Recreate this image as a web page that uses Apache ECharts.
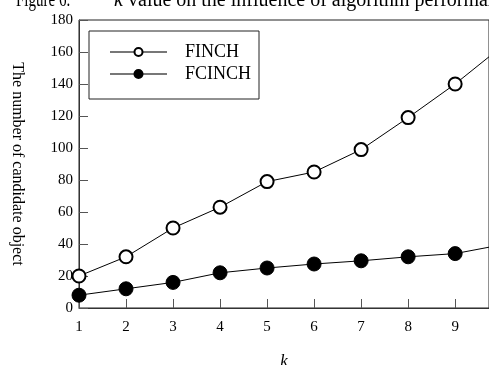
<!DOCTYPE html>
<html>
<head>
<meta charset="utf-8">
<script src="https://cdn.jsdelivr.net/npm/echarts@6/dist/echarts.min.js"></script>
<style>html,body{margin:0;padding:0;background:#fff;}#c{width:489px;height:365px;}</style>
</head>
<body>
<div id="c"></div>
<script>
// Data
var kValues = [1, 2, 3, 4, 5, 6, 7, 8, 9, 9.72];
var finch = [20, 32, 50, 63, 79, 85, 99, 119, 140, 157];
var fcinch = [8, 12, 16, 22, 25, 27.5, 29.5, 32, 34, 38];
var seriesNames = ['FINCH', 'FCINCH'];
var xTickMax = 9.72;
var yTicks = [0, 180, 20];

var serif = '"Liberation Serif", "DejaVu Serif", serif';

function toData(vals) {
  return vals.map(function (v, i) {
    var d = { value: [kValues[i], v] };
    if (i >= 9) { d.symbol = 'none'; }
    return d;
  });
}

var chart = echarts.init(document.getElementById('c'));
chart.setOption({
  animation: false,
  backgroundColor: '#fff',
  grid: { left: 79, top: 20, right: 0, bottom: 57, show: true, borderColor: '#222', borderWidth: 1, containLabel: false, outerBoundsMode: 'none' },
  graphic: [
    { type: 'text', x: 16, y: 11, scaleX: 0.75, style: { text: 'Figure 6.', font: '20px ' + serif, fill: '#000', verticalAlign: 'bottom' } },
    { type: 'text', x: 114, y: 11, style: { text: 'k', font: 'italic 20px ' + serif, fill: '#000', verticalAlign: 'bottom' } },
    { type: 'text', x: 128, y: 11, style: { text: 'value on the influence of algorithm performance', font: '20px ' + serif, fill: '#000', verticalAlign: 'bottom' } }
  ],
  legend: {
    orient: 'vertical', left: 89, top: 31,
    data: seriesNames,
    borderColor: '#222', borderWidth: 1, borderRadius: 0,
    padding: [12, 8, 16, 20],
    itemWidth: 57, itemHeight: 10, itemGap: 4,
    lineStyle: { color: '#777' },
    textStyle: { fontFamily: serif, fontSize: 18, color: '#000', padding: [0, 0, 0, 13] }
  },
  xAxis: {
    type: 'value', min: 1, max: xTickMax, interval: 1,
    name: 'k', nameLocation: 'middle', nameGap: 45,
    nameTextStyle: { fontFamily: serif, fontSize: 17, fontStyle: 'italic', color: '#000' },
    axisLine: { lineStyle: { color: '#333', width: 1 } },
    axisTick: { inside: true, length: 9, lineStyle: { color: '#555' } },
    axisLabel: {
      fontFamily: serif, fontSize: 15, color: '#000', margin: 12, showMaxLabel: false,
      formatter: function (v) { return Number.isInteger(v) ? String(v) : ''; }
    },
    splitLine: { show: false }
  },
  yAxis: {
    type: 'value', min: yTicks[0], max: yTicks[1], interval: yTicks[2],
    name: 'The number of candidate object', nameLocation: 'middle', nameRotate: -90, nameGap: 54,
    nameTextStyle: { fontFamily: serif, fontSize: 16, color: '#000' },
    axisLine: { show: true, lineStyle: { color: '#333', width: 1 } },
    axisTick: { show: true, inside: true, length: 9, lineStyle: { color: '#555' } },
    axisLabel: { fontFamily: serif, fontSize: 15, color: '#000', margin: 6 },
    splitLine: { show: false }
  },
  series: [
    {
      name: seriesNames[0], type: 'line', data: toData(finch), clip: true,
      symbol: 'emptyCircle', symbolSize: 13,
      lineStyle: { color: '#000', width: 1 },
      itemStyle: { color: '#000', borderColor: '#000', borderWidth: 1 }
    },
    {
      name: seriesNames[1], type: 'line', data: toData(fcinch), clip: true,
      symbol: 'circle', symbolSize: 14,
      lineStyle: { color: '#000', width: 1 },
      itemStyle: { color: '#000', borderColor: '#000', borderWidth: 1 }
    }
  ]
});
</script>
</body>
</html>
